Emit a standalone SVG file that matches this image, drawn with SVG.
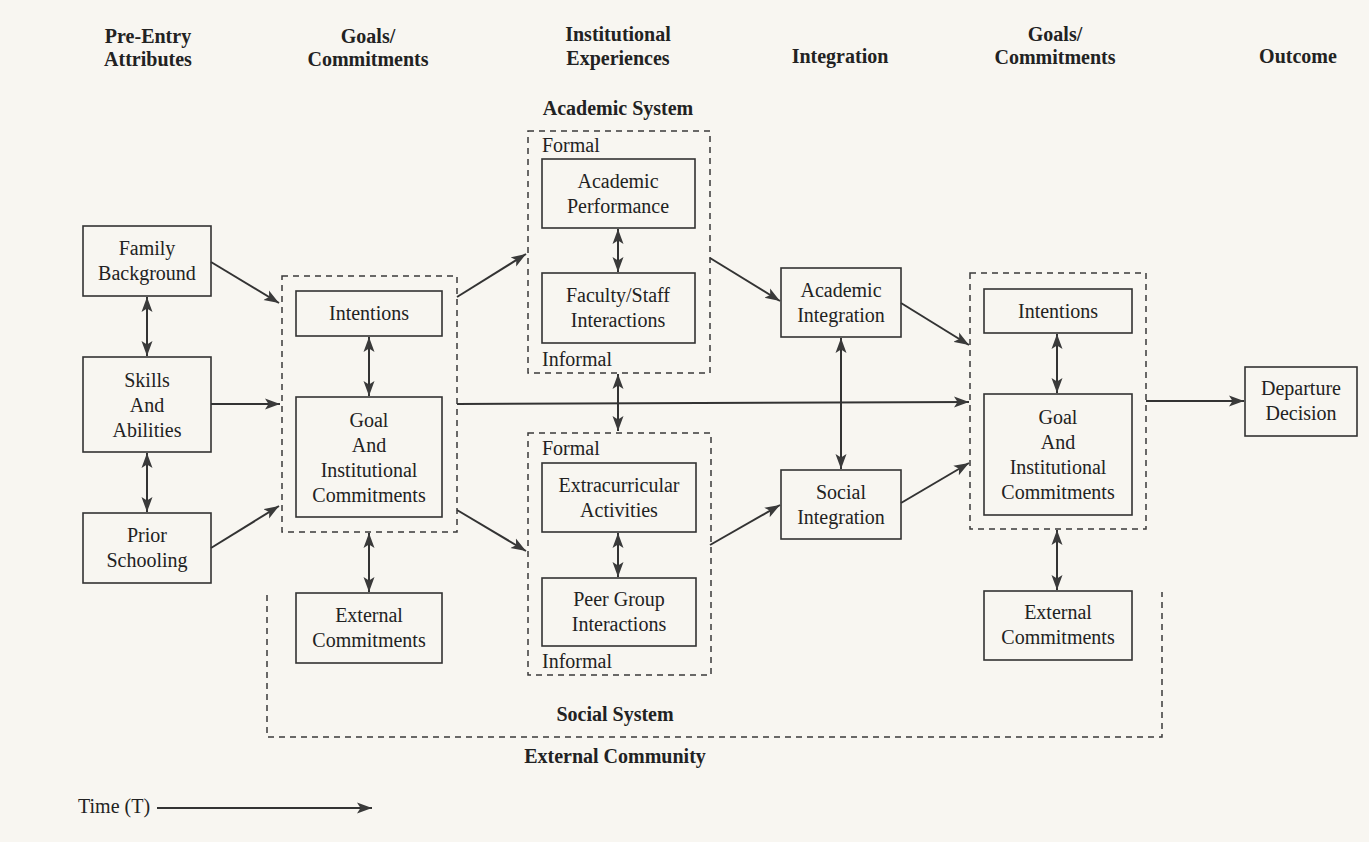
<svg xmlns="http://www.w3.org/2000/svg" width="1369" height="842" viewBox="0 0 1369 842">
<defs>
<style>
.bg{fill:#f8f6f1}
.box{fill:none;stroke:#333;stroke-width:1.6}
.dash{fill:none;stroke:#3a3a3a;stroke-width:1.5;stroke-dasharray:6 5}
.t{font-family:"Liberation Serif","DejaVu Serif",serif;font-size:20px;fill:#222;text-anchor:middle}
.h{font-family:"Liberation Serif","DejaVu Serif",serif;font-size:20px;font-weight:bold;fill:#222;text-anchor:middle}
.l{font-family:"Liberation Serif","DejaVu Serif",serif;font-size:20px;fill:#222;text-anchor:start}
.c{stroke:#333;stroke-width:2;fill:none;marker-end:url(#ah)}
.d{stroke:#333;stroke-width:2;fill:none;marker-start:url(#ah);marker-end:url(#ah)}
</style>
<marker id="ah" markerUnits="userSpaceOnUse" markerWidth="16" markerHeight="12" refX="15" refY="6" orient="auto-start-reverse">
<path d="M0,0.5 L15,6 L0,11.5 L3.5,6 z" fill="#3a3a3a"/>
</marker>
</defs>
<rect class="bg" x="0" y="0" width="1369" height="842"/>

<g id="headers">
<text class="h" x="148" y="43">Pre-Entry</text>
<text class="h" x="148" y="66">Attributes</text>
<text class="h" x="368" y="43">Goals/</text>
<text class="h" x="368" y="66">Commitments</text>
<text class="h" x="618" y="41">Institutional</text>
<text class="h" x="618" y="65">Experiences</text>
<text class="h" x="840" y="63">Integration</text>
<text class="h" x="1055" y="41">Goals/</text>
<text class="h" x="1055" y="64">Commitments</text>
<text class="h" x="1298" y="63">Outcome</text>
</g>

<g id="external-community">
<path class="dash" d="M267,595 L267,737 L1162,737 L1162,592"/>
<text class="h" x="615" y="721">Social System</text>
<text class="h" x="615" y="763">External Community</text>
</g>

<g id="family-background">
<rect class="box" x="83" y="226" width="128" height="70"/>
<text class="t" x="147" y="255">Family</text>
<text class="t" x="147" y="280">Background</text>
</g>
<g id="skills-abilities">
<rect class="box" x="83" y="357" width="128" height="95"/>
<text class="t" x="147" y="387">Skills</text>
<text class="t" x="147" y="412">And</text>
<text class="t" x="147" y="437">Abilities</text>
</g>
<g id="prior-schooling">
<rect class="box" x="83" y="513" width="128" height="70"/>
<text class="t" x="147" y="542">Prior</text>
<text class="t" x="147" y="567">Schooling</text>
</g>

<g id="goals-commitments-1">
<rect class="dash" x="282" y="276" width="175" height="256"/>
</g>
<g id="intentions-1">
<rect class="box" x="296" y="291" width="146" height="45"/>
<text class="t" x="369" y="320">Intentions</text>
</g>
<g id="goal-institutional-1">
<rect class="box" x="296" y="397" width="146" height="120"/>
<text class="t" x="369" y="427">Goal</text>
<text class="t" x="369" y="452">And</text>
<text class="t" x="369" y="477">Institutional</text>
<text class="t" x="369" y="502">Commitments</text>
</g>
<g id="external-commitments-1">
<rect class="box" x="296" y="593" width="146" height="70"/>
<text class="t" x="369" y="622">External</text>
<text class="t" x="369" y="647">Commitments</text>
</g>

<g id="academic-system">
<text class="h" x="618" y="115">Academic System</text>
<rect class="dash" x="528" y="131" width="182" height="242"/>
<text class="l" x="542" y="152">Formal</text>
<text class="l" x="542" y="366">Informal</text>
</g>
<g id="academic-performance">
<rect class="box" x="542" y="159" width="153" height="69"/>
<text class="t" x="618" y="188">Academic</text>
<text class="t" x="618" y="213">Performance</text>
</g>
<g id="faculty-staff">
<rect class="box" x="542" y="273" width="153" height="70"/>
<text class="t" x="618" y="302">Faculty/Staff</text>
<text class="t" x="618" y="327">Interactions</text>
</g>

<g id="social-system">
<rect class="dash" x="528" y="433" width="183" height="242"/>
<text class="l" x="542" y="455">Formal</text>
<text class="l" x="542" y="668">Informal</text>
</g>
<g id="extracurricular">
<rect class="box" x="542" y="463" width="154" height="69"/>
<text class="t" x="619" y="492">Extracurricular</text>
<text class="t" x="619" y="517">Activities</text>
</g>
<g id="peer-group">
<rect class="box" x="542" y="578" width="154" height="68"/>
<text class="t" x="619" y="606">Peer Group</text>
<text class="t" x="619" y="631">Interactions</text>
</g>

<g id="academic-integration">
<rect class="box" x="781" y="268" width="120" height="69"/>
<text class="t" x="841" y="297">Academic</text>
<text class="t" x="841" y="322">Integration</text>
</g>
<g id="social-integration">
<rect class="box" x="781" y="470" width="120" height="69"/>
<text class="t" x="841" y="499">Social</text>
<text class="t" x="841" y="524">Integration</text>
</g>

<g id="goals-commitments-2">
<rect class="dash" x="970" y="273" width="176" height="256"/>
</g>
<g id="intentions-2">
<rect class="box" x="984" y="289" width="148" height="44"/>
<text class="t" x="1058" y="318">Intentions</text>
</g>
<g id="goal-institutional-2">
<rect class="box" x="984" y="394" width="148" height="121"/>
<text class="t" x="1058" y="424">Goal</text>
<text class="t" x="1058" y="449">And</text>
<text class="t" x="1058" y="474">Institutional</text>
<text class="t" x="1058" y="499">Commitments</text>
</g>
<g id="external-commitments-2">
<rect class="box" x="984" y="591" width="148" height="69"/>
<text class="t" x="1058" y="619">External</text>
<text class="t" x="1058" y="644">Commitments</text>
</g>

<g id="departure-decision">
<rect class="box" x="1245" y="367" width="112" height="69"/>
<text class="t" x="1301" y="395">Departure</text>
<text class="t" x="1301" y="420">Decision</text>
</g>

<g id="time">
<text class="l" x="78" y="813">Time (T)</text>
</g>

<g id="connectors">
<line class="d" x1="147" y1="297" x2="147" y2="356"/>
<line class="d" x1="147" y1="453" x2="147" y2="512"/>
<line class="c" x1="211" y1="262" x2="279" y2="303"/>
<line class="c" x1="211" y1="404" x2="280" y2="404"/>
<line class="c" x1="211" y1="548" x2="279" y2="506"/>
<line class="d" x1="369" y1="337" x2="369" y2="396"/>
<line class="d" x1="369" y1="533" x2="369" y2="592"/>
<line class="c" x1="457" y1="297" x2="526" y2="254"/>
<line class="c" x1="457" y1="510" x2="526" y2="551"/>
<path class="c" d="M457,404 L969,402"/>
<line class="d" x1="618" y1="229" x2="618" y2="272"/>
<line class="d" x1="618" y1="374" x2="618" y2="431"/>
<line class="d" x1="618" y1="533" x2="618" y2="577"/>
<line class="c" x1="710" y1="258" x2="780" y2="301"/>
<line class="c" x1="710" y1="545" x2="780" y2="505"/>
<line class="d" x1="841" y1="338" x2="841" y2="469"/>
<line class="c" x1="901" y1="303" x2="969" y2="345"/>
<line class="c" x1="901" y1="503" x2="969" y2="463"/>
<line class="d" x1="1057" y1="334" x2="1057" y2="393"/>
<line class="d" x1="1057" y1="530" x2="1057" y2="590"/>
<line class="c" x1="1146" y1="401" x2="1244" y2="401"/>
<line class="c" x1="157" y1="808" x2="372" y2="808"/>
</g>
</svg>
